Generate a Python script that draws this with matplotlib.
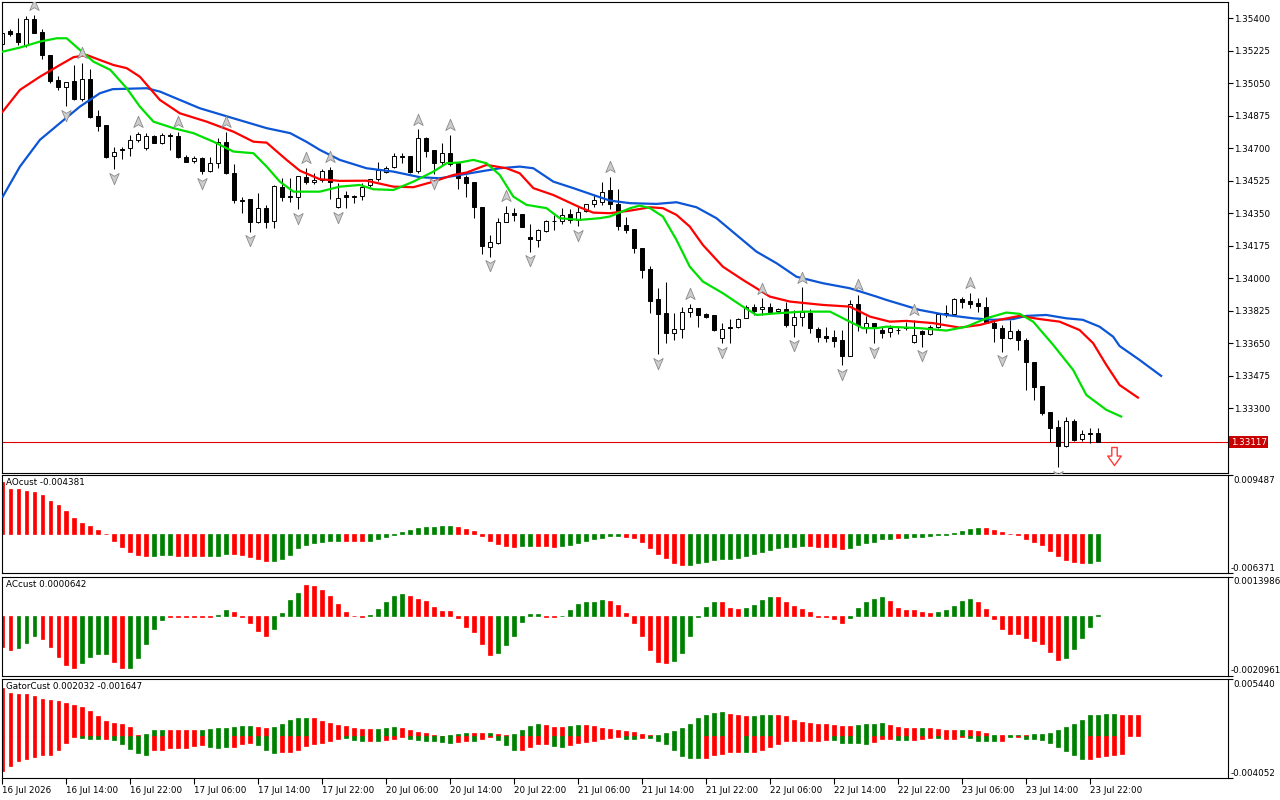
import numpy as np
import matplotlib
matplotlib.use("Agg")
import matplotlib.pyplot as plt
from matplotlib.path import Path

plt.rcParams.update({"font.family": ["DejaVu Sans"], "font.size": 6.3})

# ---------------- data ----------------
open_ = [1.35260, 1.35332, 1.35319, 1.35256, 1.35395, 1.35328, 1.35202, 1.35068, 1.35028, 1.35064,
         1.34965, 1.35071, 1.34874, 1.34825, 1.34658, 1.34695, 1.34700, 1.34745, 1.34700, 1.34766,
         1.34730, 1.34770, 1.34766, 1.34655, 1.34632, 1.34646, 1.34579, 1.34622, 1.34732, 1.34565,
         1.34420, 1.34427, 1.34305, 1.34377, 1.34310, 1.34493, 1.34443, 1.34439, 1.34547, 1.34520,
         1.34529, 1.34583, 1.34385, 1.34448, 1.34443, 1.34445, 1.34501, 1.34533, 1.34574, 1.34598,
         1.34658, 1.34658, 1.34578, 1.34754, 1.34691, 1.34625, 1.34676, 1.34619, 1.34544, 1.34520,
         1.34385, 1.34170, 1.34192, 1.34305, 1.34353, 1.34348, 1.34221, 1.34206, 1.34256, 1.34310,
         1.34310, 1.34348, 1.34314, 1.34364, 1.34400, 1.34409, 1.34475, 1.34400, 1.34287, 1.34264,
         1.34161, 1.34049, 1.33887, 1.33811, 1.33707, 1.33725, 1.33820, 1.33838, 1.33808, 1.33802,
         1.33677, 1.33736, 1.33736, 1.33785, 1.33847, 1.33833, 1.33847, 1.33824, 1.33833, 1.33748,
         1.33790, 1.33811, 1.33725, 1.33689, 1.33685, 1.33668, 1.33581, 1.33861, 1.33736, 1.33761,
         1.33722, 1.33709, 1.33723, 1.33736, 1.33658, 1.33713, 1.33699, 1.33739, 1.33808, 1.33806,
         1.33887, 1.33878, 1.33865, 1.33847, 1.33761, 1.33731, 1.33677, 1.33716, 1.33668, 1.33551,
         1.33420, 1.33279, 1.33198, 1.33098, 1.33231, 1.33133, 1.33165, 1.33165]
high = [1.35337, 1.35341, 1.35400, 1.35412, 1.35418, 1.35341, 1.35202, 1.35089, 1.35059, 1.35148,
        1.35158, 1.35125, 1.34906, 1.34825, 1.34708, 1.34708, 1.34772, 1.34789, 1.34781, 1.34772,
        1.34781, 1.34781, 1.34789, 1.34664, 1.34658, 1.34655, 1.34655, 1.34754, 1.34789, 1.34614,
        1.34439, 1.34427, 1.34461, 1.34395, 1.34502, 1.34538, 1.34542, 1.34551, 1.34595, 1.34565,
        1.34588, 1.34598, 1.34511, 1.34472, 1.34448, 1.34511, 1.34536, 1.34628, 1.34606, 1.34676,
        1.34673, 1.34658, 1.34802, 1.34762, 1.34691, 1.34727, 1.34772, 1.34619, 1.34556, 1.34520,
        1.34385, 1.34233, 1.34323, 1.34389, 1.34380, 1.34348, 1.34292, 1.34264, 1.34314, 1.34341,
        1.34377, 1.34371, 1.34389, 1.34400, 1.34448, 1.34520, 1.34547, 1.34479, 1.34332, 1.34264,
        1.34161, 1.34066, 1.33946, 1.33981, 1.33811, 1.33847, 1.33861, 1.33838, 1.33811, 1.33802,
        1.33761, 1.33781, 1.33785, 1.33856, 1.33861, 1.33892, 1.33865, 1.33838, 1.33874, 1.33829,
        1.33951, 1.33833, 1.33739, 1.33739, 1.33722, 1.33722, 1.33883, 1.33910, 1.33797, 1.33761,
        1.33739, 1.33748, 1.33739, 1.33765, 1.33776, 1.33722, 1.33748, 1.33811, 1.33856, 1.33892,
        1.33901, 1.33922, 1.33892, 1.33901, 1.33776, 1.33748, 1.33776, 1.33725, 1.33677, 1.33551,
        1.33420, 1.33279, 1.33237, 1.33255, 1.33241, 1.33183, 1.33192, 1.33192]
low = [1.35251, 1.35305, 1.35256, 1.35247, 1.35319, 1.35179, 1.35050, 1.35014, 1.34928, 1.34960,
       1.34956, 1.34861, 1.34793, 1.34646, 1.34587, 1.34641, 1.34660, 1.34735, 1.34691, 1.34727,
       1.34723, 1.34691, 1.34646, 1.34625, 1.34619, 1.34562, 1.34574, 1.34592, 1.34562, 1.34407,
       1.34350, 1.34251, 1.34296, 1.34272, 1.34272, 1.34418, 1.34412, 1.34371, 1.34508, 1.34508,
       1.34520, 1.34425, 1.34377, 1.34377, 1.34404, 1.34422, 1.34493, 1.34525, 1.34569, 1.34592,
       1.34622, 1.34569, 1.34569, 1.34651, 1.34560, 1.34610, 1.34605, 1.34479, 1.34439, 1.34326,
       1.34131, 1.34116, 1.34185, 1.34305, 1.34310, 1.34278, 1.34143, 1.34167, 1.34251, 1.34260,
       1.34292, 1.34296, 1.34281, 1.34358, 1.34382, 1.34395, 1.34371, 1.34260, 1.34242, 1.34134,
       1.34003, 1.33811, 1.33592, 1.33653, 1.33668, 1.33677, 1.33793, 1.33739, 1.33785, 1.33713,
       1.33650, 1.33653, 1.33731, 1.33785, 1.33802, 1.33802, 1.33811, 1.33811, 1.33739, 1.33685,
       1.33743, 1.33707, 1.33658, 1.33658, 1.33632, 1.33533, 1.33581, 1.33713, 1.33704, 1.33650,
       1.33677, 1.33682, 1.33700, 1.33722, 1.33650, 1.33632, 1.33695, 1.33731, 1.33793, 1.33802,
       1.33838, 1.33838, 1.33820, 1.33758, 1.33658, 1.33605, 1.33671, 1.33612, 1.33399, 1.33345,
       1.33264, 1.33120, 1.32982, 1.33093, 1.33124, 1.33125, 1.33115, 1.33117]
close = [1.35319, 1.35314, 1.35274, 1.35395, 1.35322, 1.35202, 1.35064, 1.35028, 1.35055, 1.34965,
         1.35071, 1.34870, 1.34822, 1.34651, 1.34682, 1.34691, 1.34745, 1.34775, 1.34766, 1.34730,
         1.34772, 1.34768, 1.34651, 1.34628, 1.34646, 1.34579, 1.34622, 1.34735, 1.34565, 1.34422,
         1.34418, 1.34305, 1.34377, 1.34305, 1.34497, 1.34439, 1.34439, 1.34551, 1.34520, 1.34529,
         1.34579, 1.34520, 1.34431, 1.34436, 1.34436, 1.34490, 1.34533, 1.34583, 1.34595, 1.34658,
         1.34655, 1.34574, 1.34754, 1.34687, 1.34622, 1.34676, 1.34615, 1.34538, 1.34515, 1.34385,
         1.34174, 1.34197, 1.34305, 1.34353, 1.34341, 1.34278, 1.34210, 1.34260, 1.34310, 1.34307,
         1.34341, 1.34314, 1.34358, 1.34400, 1.34422, 1.34466, 1.34400, 1.34281, 1.34260, 1.34161,
         1.34045, 1.33879, 1.33806, 1.33707, 1.33725, 1.33817, 1.33838, 1.33802, 1.33793, 1.33722,
         1.33725, 1.33732, 1.33779, 1.33844, 1.33824, 1.33847, 1.33820, 1.33833, 1.33748, 1.33790,
         1.33820, 1.33731, 1.33685, 1.33677, 1.33664, 1.33581, 1.33861, 1.33748, 1.33758, 1.33731,
         1.33707, 1.33731, 1.33720, 1.33734, 1.33695, 1.33699, 1.33739, 1.33808, 1.33813, 1.33887,
         1.33874, 1.33860, 1.33851, 1.33761, 1.33731, 1.33677, 1.33716, 1.33668, 1.33551, 1.33416,
         1.33276, 1.33192, 1.33098, 1.33231, 1.33129, 1.33161, 1.33160, 1.33117]

# Alligator lines (bar position, price)
jaw_x = [0.05, 2.2, 4.7, 7.2, 9.7, 12.2, 13.8, 18.05, 19.7, 22.2, 24.7, 28.9, 33.05, 36.0, 38.05,
         39.7, 42.2, 45.55, 48.9, 52.2, 54.7, 57.2, 59.7, 62.2, 64.7, 66.4, 68.9, 71.4, 73.9, 75.96,
         78.5, 81.8, 84.3, 86.8, 89.3, 91.8, 94.3, 96.8, 99.3, 102.6, 105.96, 109.3, 110.55, 114.7,
         118.05, 121.4, 123.9, 126.4, 128.05, 130.55, 133.05, 135.1, 137.2, 138.9, 139.7, 142.2, 144.9]
jaw_y = [1.34439, 1.34601, 1.34745, 1.34835, 1.34924, 1.34996, 1.35018, 1.35023, 1.35005, 1.34960,
         1.34915, 1.34861, 1.34808, 1.34781, 1.34734, 1.34691, 1.34637, 1.34592, 1.34574, 1.34544,
         1.34538, 1.34556, 1.34574, 1.34592, 1.34601, 1.34592, 1.34520, 1.34485, 1.34448, 1.34418,
         1.34404, 1.34400, 1.34409, 1.34382, 1.34323, 1.34233, 1.34143, 1.34081, 1.34008, 1.33973,
         1.33946, 1.33901, 1.33883, 1.33829, 1.33802, 1.33784, 1.33776, 1.33780, 1.33797, 1.33802,
         1.33784, 1.33776, 1.33739, 1.33685, 1.33635, 1.33560, 1.33474]
teeth_x = [0.05, 2.2, 4.7, 7.2, 8.9, 10.55, 12.2, 13.9, 15.55, 17.2, 19.7, 22.2, 25.55, 28.9, 31.4,
           33.05, 35.55, 37.2, 39.7, 42.2, 45.55, 48.9, 51.4, 53.9, 56.4, 58.05, 60.55, 63.05, 64.7,
           66.4, 68.9, 72.2, 73.9, 75.96, 78.5, 81.0, 82.6, 84.3, 85.96, 87.6, 90.1, 92.6, 94.3, 95.96,
           98.5, 102.6, 105.96, 108.5, 110.96, 113.05, 116.4, 119.7, 122.2, 124.7, 127.2, 129.7,
           132.2, 134.7, 136.4, 138.05, 139.7, 142.0]
teeth_y = [1.34897, 1.35014, 1.35085, 1.35148, 1.35190, 1.35202, 1.35175, 1.35148, 1.35131, 1.35085,
           1.34960, 1.34888, 1.34843, 1.34789, 1.34735, 1.34730, 1.34637, 1.34579, 1.34533, 1.34524,
           1.34525, 1.34493, 1.34490, 1.34520, 1.34556, 1.34569, 1.34610, 1.34592, 1.34565, 1.34485,
           1.34448, 1.34382, 1.34353, 1.34350, 1.34364, 1.34382, 1.34377, 1.34341, 1.34278, 1.34179,
           1.34062, 1.33991, 1.33946, 1.33901, 1.33874, 1.33856, 1.33847, 1.33793, 1.33766, 1.33770,
           1.33758, 1.33734, 1.33748, 1.33776, 1.33797, 1.33780, 1.33766, 1.33721, 1.33650, 1.33533,
           1.33425, 1.33357]
lips_x = [0.05, 2.2, 4.7, 6.8, 8.05, 9.7, 11.4, 13.5, 15.55, 17.2, 18.9, 21.4, 23.9, 26.4, 28.9,
          31.4, 33.05, 34.7, 36.4, 39.7, 42.2, 44.7, 46.4, 48.9, 51.4, 53.9, 55.55, 57.2, 58.9, 60.55,
          62.2, 63.9, 65.55, 68.05, 69.7, 72.2, 74.7, 75.96, 78.5, 79.7, 81.0, 82.6, 84.3, 85.96, 87.6,
          90.1, 92.6, 94.3, 96.8, 100.1, 103.5, 105.96, 107.6, 109.3, 110.55, 114.7, 118.05, 120.55,
          123.05, 125.55, 127.2, 128.9, 131.4, 133.9, 135.55, 138.05, 139.9]
lips_y = [1.35220, 1.35242, 1.35274, 1.35292, 1.35292, 1.35229, 1.35166, 1.35122, 1.35023, 1.34924,
          1.34843, 1.34808, 1.34781, 1.34735, 1.34682, 1.34673, 1.34601, 1.34520, 1.34466, 1.34466,
          1.34493, 1.34502, 1.34479, 1.34475, 1.34520, 1.34574, 1.34619, 1.34623, 1.34637, 1.34619,
          1.34556, 1.34439, 1.34395, 1.34377, 1.34323, 1.34314, 1.34323, 1.34332, 1.34377, 1.34391,
          1.34377, 1.34332, 1.34206, 1.34062, 1.33982, 1.33919, 1.33847, 1.33802, 1.33811, 1.33820,
          1.33820, 1.33766, 1.33731, 1.33731, 1.33739, 1.33731, 1.33718, 1.33739, 1.33784, 1.33815,
          1.33808, 1.33766, 1.33641, 1.33506, 1.33371, 1.33291, 1.33255]

fractal_up = [4, 10, 17, 22, 28, 38, 41, 52, 56, 63, 76, 86, 95, 100, 107, 114, 121]
fractal_dn = [8, 14, 25, 31, 37, 42, 54, 61, 66, 72, 82, 90, 99, 105, 109, 115, 125, 132]

last_price = 1.33117
signal_bar, signal_price = 139, 1.33043

price_ticks = [1.35400, 1.35225, 1.35050, 1.34875, 1.34700, 1.34525, 1.34350,
               1.34175, 1.34000, 1.33825, 1.33650, 1.33475, 1.33300]
time_labels = ["16 Jul 2026", "16 Jul 14:00", "16 Jul 22:00", "17 Jul 06:00", "17 Jul 14:00",
               "17 Jul 22:00", "20 Jul 06:00", "20 Jul 14:00", "20 Jul 22:00", "21 Jul 06:00",
               "21 Jul 14:00", "21 Jul 22:00", "22 Jul 06:00", "22 Jul 14:00", "22 Jul 22:00",
               "23 Jul 06:00", "23 Jul 14:00", "23 Jul 22:00"]
time_label_bars = [0, 8, 16, 24, 32, 40, 48, 56, 64, 72, 80, 88, 96, 104, 112, 120, 128, 136]

ao = [0.00828, 0.00730, 0.00730, 0.00687, 0.00676, 0.00621, 0.00534, 0.00458, 0.00360, 0.00256,
      0.00174, 0.00131, 0.00065, -0.00008, -0.00114, -0.00213, -0.00294, -0.00343, -0.00360, -0.00358,
      -0.00349, -0.00343, -0.00360, -0.00361, -0.00362, -0.00363, -0.00360, -0.00352, -0.00327, -0.00332,
      -0.00343, -0.00382, -0.00414, -0.00441, -0.00440, -0.00403, -0.00349, -0.00234, -0.00185, -0.00142,
      -0.00125, -0.00120, -0.00114, -0.00118, -0.00120, -0.00122, -0.00114, -0.00087, -0.00054, -0.00012,
      0.00022, 0.00060, 0.00093, 0.00109, 0.00110, 0.00125, 0.00127, 0.00114, 0.00082, 0.00044,
      -0.00038, -0.00114, -0.00164, -0.00196, -0.00213, -0.00198, -0.00195, -0.00197, -0.00199, -0.00213,
      -0.00196, -0.00180, -0.00147, -0.00114, -0.00082, -0.00071, -0.00040, -0.00038, -0.00055, -0.00065,
      -0.00131, -0.00229, -0.00332, -0.00392, -0.00474, -0.00507, -0.00505, -0.00474, -0.00458, -0.00425,
      -0.00409, -0.00405, -0.00387, -0.00360, -0.00332, -0.00294, -0.00267, -0.00223, -0.00213, -0.00211,
      -0.00196, -0.00198, -0.00213, -0.00214, -0.00215, -0.00245, -0.00229, -0.00180, -0.00147, -0.00131,
      -0.00085, -0.00080, -0.00071, -0.00065, -0.00049, -0.00048, -0.00033, -0.00027, -0.00016, 0.00005,
      0.00044, 0.00082, 0.00098, 0.00097, 0.00065, 0.00027, -0.00011, -0.00022, -0.00082, -0.00131,
      -0.00180, -0.00278, -0.00360, -0.00425, -0.00458, -0.00474, -0.00472, -0.004381]
ao_runs = [("r", 19), ("g", 3), ("r", 4), ("g", 3), ("r", 5), ("g", 9), ("r", 3), ("g", 11),
           ("r", 8), ("g", 2), ("r", 3), ("g", 8), ("r", 8), ("g", 15), ("r", 5), ("g", 6),
           ("r", 1), ("g", 10), ("r", 13), ("g", 2)]

ac = [-0.00109, -0.00119, -0.00111, -0.00093, -0.00071, -0.00080, -0.00107, -0.00143, -0.00172, -0.00182,
      -0.00166, -0.00143, -0.00133, -0.00132, -0.00161, -0.00182, -0.00181, -0.00146, -0.00096, -0.00045,
      -0.00014, -0.00002, -0.00002, -0.00002, -0.00002, -0.00002, -0.00002, 0.00006, 0.00024, 0.00015,
      -0.00002, -0.00025, -0.00051, -0.00068, -0.00044, 0.00010, 0.00059, 0.00083, 0.00109, 0.00108,
      0.00092, 0.00071, 0.00045, 0.00015, 0.00002, -0.00001, 0.00004, 0.00027, 0.00049, 0.00070,
      0.00078, 0.00071, 0.00061, 0.00054, 0.00032, 0.00018, 0.00018, -0.00006, -0.00036, -0.00054,
      -0.00096, -0.00136, -0.00128, -0.00103, -0.00071, -0.00021, 0.00007, 0.00007, -0.00003, -0.00004,
      0.00001, 0.00021, 0.00043, 0.00050, 0.00050, 0.00057, 0.00054, 0.00039, 0.00011, -0.00025,
      -0.00071, -0.00120, -0.00161, -0.00164, -0.00157, -0.00128, -0.00068, -0.00001, 0.00032, 0.00050,
      0.00050, 0.00029, 0.00025, 0.00029, 0.00039, 0.00057, 0.00068, 0.00068, 0.00051, 0.00036,
      0.00025, 0.00014, -0.00001, -0.00001, -0.00011, -0.00025, -0.00007, 0.00029, 0.00050, 0.00061,
      0.00068, 0.00054, 0.00029, 0.00021, 0.00021, 0.00014, 0.00011, 0.00014, 0.00021, 0.00036,
      0.00054, 0.00061, 0.00050, 0.00025, -0.00011, -0.00043, -0.00061, -0.00064, -0.00078, -0.00086,
      -0.00096, -0.00125, -0.00153, -0.00146, -0.00114, -0.00078, -0.00036, 0.0000642]
ac_runs = [("r", 2), ("g", 3), ("r", 5), ("g", 4), ("r", 2), ("g", 5), ("r", 6), ("g", 2),
           ("r", 5), ("g", 4), ("r", 8), ("g", 5), ("r", 11), ("g", 6), ("r", 2), ("g", 6),
           ("r", 8), ("g", 6), ("r", 3), ("g", 4), ("r", 9), ("g", 5), ("r", 6), ("g", 5),
           ("r", 11), ("g", 5)]

gator_up = [0.00459, 0.00406, 0.00404, 0.00402, 0.00384, 0.00352, 0.00346, 0.00336, 0.00313, 0.00297,
            0.00274, 0.00242, 0.00191, 0.00145, 0.00119, 0.00110, 0.00087, 0.00006, 0.00023, 0.00055,
            0.00061, 0.00055, 0.00054, 0.00053, 0.00052, 0.00061, 0.00062, 0.00071, 0.00077, 0.00081,
            0.00094, 0.00095, 0.00084, 0.00077, 0.00084, 0.00113, 0.00152, 0.00168, 0.00171, 0.00168,
            0.00145, 0.00119, 0.00103, 0.00094, 0.00071, 0.00068, 0.00065, 0.00068, 0.00077, 0.00087,
            0.00074, 0.00058, 0.00039, 0.00029, 0.00010, 0.00002, 0.00010, 0.00019, 0.00029, 0.00028,
            0.00027, 0.00029, 0.00019, 0.00004, 0.00019, 0.00058, 0.00097, 0.00116, 0.00107, 0.00087,
            0.00086, 0.00097, 0.00107, 0.00106, 0.00097, 0.00077, 0.00068, 0.00058, 0.00048, 0.00039,
            0.00019, 0.00010, 0.00011, 0.00029, 0.00048, 0.00077, 0.00116, 0.00174, 0.00203, 0.00223,
            0.00224, 0.00213, 0.00203, 0.00194, 0.00195, 0.00203, 0.00204, 0.00197, 0.00187, 0.00155,
            0.00136, 0.00126, 0.00116, 0.00115, 0.00107, 0.00097, 0.00096, 0.00107, 0.00116, 0.00117,
            0.00126, 0.00107, 0.00087, 0.00077, 0.00076, 0.00077, 0.00076, 0.00068, 0.00058, 0.00057,
            0.00058, 0.00057, 0.00048, 0.00029, 0.00010, 0.00009, 0.00010, 0.00011, 0.00010, 0.00019,
            0.00020, 0.00029, 0.00058, 0.00087, 0.00116, 0.00155, 0.00203, 0.002032, 0.00213, 0.00214,
            0.00203, 0.00202, 0.00201]
gator_up_runs = [("r", 18), ("g", 3), ("r", 4), ("g", 7), ("r", 2), ("g", 5), ("r", 8), ("g", 3),
                 ("r", 6), ("g", 3), ("r", 2), ("g", 1), ("r", 2), ("g", 4), ("r", 3), ("g", 2),
                 ("r", 9), ("g", 9), ("r", 3), ("g", 3), ("r", 10), ("g", 4), ("r", 4), ("g", 1),
                 ("r", 4), ("g", 1), ("r", 3), ("g", 1), ("r", 1), ("g", 2), ("r", 1), ("g", 11),
                 ("r", 3)]
gator_dn = [-0.00333, -0.00284, -0.00236, -0.00216, -0.00203, -0.00187, -0.00178, -0.00132, -0.00068, -0.00010,
            -0.00019, -0.00026, -0.00029, -0.00028, -0.00042, -0.00081, -0.00126, -0.00165, -0.00178, -0.00139,
            -0.00132, -0.00116, -0.00113, -0.00112, -0.00094, -0.00087, -0.00103, -0.00113, -0.00107, -0.00106,
            -0.00074, -0.00068, -0.00090, -0.00132, -0.00165, -0.00155, -0.00154, -0.00132, -0.00100, -0.00081,
            -0.00068, -0.00048, -0.00032, -0.00019, -0.00036, -0.00048, -0.00045, -0.00049, -0.00036, -0.00030,
            -0.00010, -0.00029, -0.00039, -0.00048, -0.00049, -0.00058, -0.00068, -0.00058, -0.00048, -0.00049,
            -0.00029, -0.00010, -0.00039, -0.00087, -0.00136, -0.00135, -0.00107, -0.00077, -0.00076, -0.00097,
            -0.00107, -0.00087, -0.00068, -0.00058, -0.00048, -0.00029, -0.00019, -0.00010, -0.00029, -0.00030,
            -0.00019, -0.00020, -0.00048, -0.00077, -0.00136, -0.00194, -0.00213, -0.00214, -0.00213, -0.00184,
            -0.00174, -0.00155, -0.00154, -0.00155, -0.00154, -0.00136, -0.00107, -0.00077, -0.00048, -0.00047,
            -0.00046, -0.00045, -0.00044, -0.00043, -0.00039, -0.00068, -0.00069, -0.00070, -0.00077, -0.00058,
            -0.00029, -0.00028, -0.00039, -0.00040, -0.00039, -0.00029, -0.00019, -0.00020, -0.00029, -0.00029,
            -0.00010, -0.00019, -0.00048, -0.00049, -0.00048, -0.00047, -0.00010, -0.00010, -0.00029, -0.00030,
            -0.00039, -0.00068, -0.00103, -0.00145, -0.00184, -0.00223, -0.00222, -0.00200, -0.00190, -0.00184,
            -0.00174]
gator_dn_runs = [("r", 10), ("g", 3), ("r", 1), ("g", 5), ("r", 7), ("g", 3), ("r", 3), ("g", 3),
                 ("r", 8), ("g", 3), ("r", 1), ("g", 1), ("r", 3), ("g", 6), ("r", 2), ("g", 1),
                 ("r", 2), ("g", 3), ("r", 4), ("g", 2), ("r", 7), ("g", 2), ("r", 1), ("g", 7),
                 ("r", 5), ("g", 1), ("r", 10), ("g", 5), ("r", 3), ("g", 2), ("r", 3), ("g", 1),
                 ("r", 3), ("g", 4), ("r", 1), ("g", 1), ("r", 1), ("g", 8), ("r", 5)]

ao_label = "AOcust -0.004381"
ac_label = "ACcust 0.0000642"
gator_label = "GatorCust 0.002032 -0.001647"
ao_range = (-0.006371, 0.009487)
ac_range = (-0.0020961, 0.0013986)
gator_range = (-0.004052, 0.005440)
range_text = {ao_range: ("-0.006371", "0.009487"),
              ac_range: ("-0.0020961", "0.0013986"),
              gator_range: ("-0.004052", "0.005440")}

# ---------------- styling ----------------
HIST = {"r": "#ff0000", "g": "#008000"}
JAW, TEETH, LIPS = "#0b55d6", "#ff0000", "#00e000"
W, H = 1280, 800
XLIM = (-0.04, 153.2)


def expand(runs):
    return [HIST[c] for c, n in runs for _ in range(n)]


def panel(fig, top, bottom, left=2, right=1227.5):
    ax = fig.add_axes([left / W, 1 - bottom / H, (right - left) / W, (bottom - top) / H])
    ax.set_xlim(*XLIM)
    for s in ax.spines.values():
        s.set_color("black")
        s.set_linewidth(0.8)
    ax.tick_params(axis="x", bottom=False, labelbottom=False)
    ax.tick_params(axis="y", left=False, labelleft=False)
    return ax


def sub_panel(fig, top, bottom, rng, label):
    ax = panel(fig, top, bottom)
    ax.set_ylim(*rng)
    ax.yaxis.tick_right()
    ax.set_yticks(list(rng))
    ax.tick_params(axis="y", right=True, labelright=False, direction="out",
                   length=3.5, width=0.8)
    lo_txt, hi_txt = range_text[rng]
    ax.annotate(hi_txt, xy=(1, 1), xycoords="axes fraction", xytext=(4, -0.5),
                textcoords="offset points", ha="left", va="top")
    ax.annotate(lo_txt, xy=(1, 0), xycoords="axes fraction", xytext=(2, 0.5),
                textcoords="offset points", ha="left", va="bottom")
    ax.annotate(label, xy=(0, 1), xycoords="axes fraction", xytext=(3, -2.5),
                textcoords="offset points", ha="left", va="top")
    return ax


up_arrow = Path([(0, 1), (0.75, -0.8), (0, -0.35), (-0.75, -0.8), (0, 1)], closed=True)
dn_arrow = Path([(0, -1), (0.75, 0.8), (0, 0.35), (-0.75, 0.8), (0, -1)], closed=True)
sell_arrow = Path([(-0.3, 1), (0.3, 1), (0.3, 0.05), (0.75, 0.05), (0, -1), (-0.75, 0.05),
                   (-0.3, 0.05), (-0.3, 1)], closed=True)

fig = plt.figure(figsize=(W / 100, H / 100), dpi=100)
fig.patch.set_facecolor("white")

# ---------------- main chart ----------------
ax = panel(fig, 1.5, 473)
ax.set_ylim(1.32951, 1.35490)
o, h, l, c = (np.array(v) for v in (open_, high, low, close))
x = np.arange(len(c))
bull = c >= o
ax.vlines(x, l, h, color="black", lw=0.75, zorder=2)
ax.bar(x, np.abs(c - o), bottom=np.minimum(o, c), width=0.5,
       color=np.where(bull, "white", "black"), edgecolor="black", linewidth=0.7, zorder=2.5)

ax.plot(jaw_x, jaw_y, color=JAW, lw=1.6, zorder=3, solid_joinstyle="round")
ax.plot(teeth_x, teeth_y, color=TEETH, lw=1.6, zorder=3.1, solid_joinstyle="round")
ax.plot(lips_x, lips_y, color=LIPS, lw=1.6, zorder=3.2, solid_joinstyle="round")

ax.plot(fractal_up, h[fractal_up] + 0.00052, ls="none", marker=up_arrow, ms=9,
        mfc="#cdcdcd", mec="#8a8a8a", mew=0.6, zorder=4)
ax.plot(fractal_dn, l[fractal_dn] - 0.00047, ls="none", marker=dn_arrow, ms=9,
        mfc="#cdcdcd", mec="#8a8a8a", mew=0.6, zorder=4)

ax.axhline(last_price, color="#e00000", lw=0.8, zorder=1.5)
ax.plot([signal_bar], [signal_price], ls="none", marker=sell_arrow, ms=13,
        mfc="white", mec="#ff3a3a", mew=1.0, zorder=4)

ax.yaxis.tick_right()
ax.set_yticks(price_ticks)
ax.set_yticklabels([f"{p:.5f}" for p in price_ticks])
ax.tick_params(axis="y", right=True, labelright=True, direction="out", length=3.5,
               width=0.8, pad=1.5)
ax.annotate(f"{last_price:.5f}", xy=(1, last_price), xycoords=("axes fraction", "data"),
            xytext=(2.2, 0), textcoords="offset points", ha="left", va="center",
            color="white",
            bbox=dict(boxstyle="square,pad=0.18", fc="#c80000", ec="none"))

# ---------------- oscillators ----------------
ax_ao = sub_panel(fig, 475, 573.3, ao_range, ao_label)
ao_cols = expand(ao_runs)
ax_ao.bar(np.arange(len(ao)), ao, width=0.45, color=ao_cols, edgecolor=ao_cols, linewidth=0.5)

ax_ac = sub_panel(fig, 576.7, 675.7, ac_range, ac_label)
ac_cols = expand(ac_runs)
ax_ac.bar(np.arange(len(ac)), ac, width=0.45, color=ac_cols, edgecolor=ac_cols, linewidth=0.5)

ax_g = sub_panel(fig, 679, 778.3, gator_range, gator_label)
gu_cols = expand(gator_up_runs)
gd_cols = expand(gator_dn_runs)
ax_g.bar(np.arange(len(gator_up)), gator_up, width=0.45, color=gu_cols, edgecolor=gu_cols,
         linewidth=0.5)
ax_g.bar(np.arange(len(gator_dn)), gator_dn, width=0.45, color=gd_cols, edgecolor=gd_cols,
         linewidth=0.5)

ax_g.set_xticks(time_label_bars)
ax_g.set_xticklabels(time_labels, ha="left")
ax_g.tick_params(axis="x", bottom=True, labelbottom=True, direction="out", length=4,
                 width=0.8, pad=1.5)

fig.savefig("out.png", dpi=100)
plt.close(fig)
